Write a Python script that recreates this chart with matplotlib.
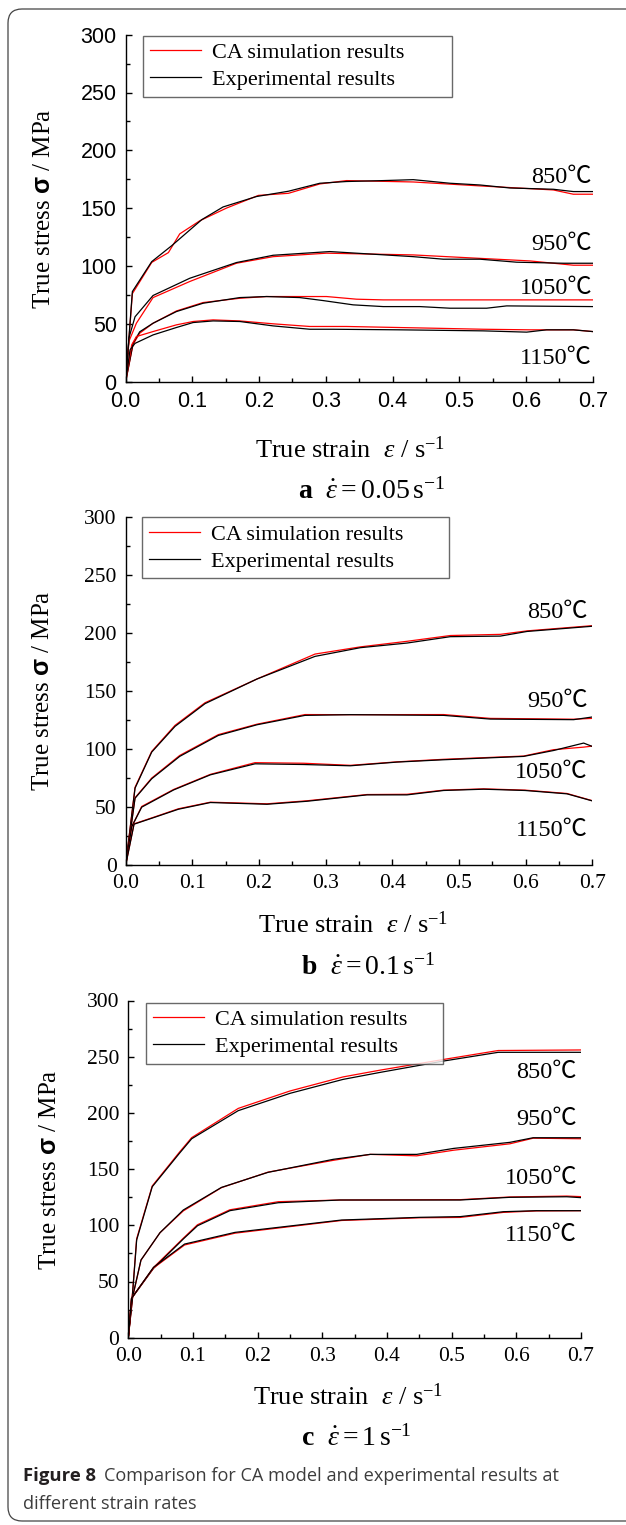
"""
Flow stress curves: CA simulation vs experiment at three strain rates.
"""

import matplotlib
matplotlib.use("Agg")
import matplotlib.pyplot as plt
from matplotlib.patches import FancyBboxPatch
from matplotlib.ticker import MultipleLocator


# =====================================================
# Data (strain, stress in MPa)
# =====================================================

TEMPS = ["850℃", "950℃", "1050℃", "1150℃"]

# ---- a : 0.05 s-1 ----
A_850_EXP_X = [0, 0.01, 0.039, 0.069, 0.114, 0.146, 0.196, 0.244, 0.291, 0.331, 0.386, 0.431, 0.486, 0.531, 0.576, 0.641, 0.671, 0.7]
A_850_EXP_Y = [0, 77.8, 103.7, 117.5, 140, 151, 160, 164.6, 171.5, 173, 173.8, 174.6, 171.5, 170, 167.4, 166.3, 164.3, 164.3]
A_850_SIM_X = [0, 0.01, 0.039, 0.064, 0.081, 0.111, 0.151, 0.199, 0.244, 0.291, 0.331, 0.431, 0.531, 0.641, 0.671, 0.7]
A_850_SIM_Y = [0, 76, 103, 111.5, 127.7, 139, 150, 161, 162.8, 170.9, 173.8, 172.6, 169.2, 165.7, 162, 162]

A_950_EXP_X = [0, 0.005, 0.014, 0.041, 0.096, 0.166, 0.221, 0.306, 0.431, 0.476, 0.531, 0.586, 0.656, 0.7]
A_950_EXP_Y = [0, 38, 56, 74.4, 89.3, 102.9, 109.2, 112.4, 108, 105.8, 105.8, 103.2, 102.3, 102.3]
A_950_SIM_X = [0, 0.005, 0.016, 0.041, 0.096, 0.166, 0.221, 0.301, 0.431, 0.481, 0.606, 0.671, 0.7]
A_950_SIM_Y = [0, 35, 50.4, 72.6, 86.5, 102.3, 108, 111, 109.5, 108, 104.3, 100.6, 100.6]

A_1050_EXP_X = [0, 0.011, 0.021, 0.041, 0.076, 0.116, 0.171, 0.211, 0.261, 0.296, 0.341, 0.386, 0.441, 0.486, 0.541, 0.571, 0.7]
A_1050_EXP_Y = [0, 33, 43, 50.4, 60.5, 67.7, 72.6, 73.5, 72.6, 70, 66.3, 64.8, 64.8, 63.4, 63.4, 65.4, 64.8]
A_1050_SIM_X = [0, 0.011, 0.021, 0.041, 0.076, 0.116, 0.171, 0.211, 0.301, 0.346, 0.386, 0.7]
A_1050_SIM_Y = [0, 32, 41.8, 50.4, 61, 68.3, 72, 73.5, 73.5, 71.2, 70.6, 70.6]

A_1150_EXP_X = [0, 0.0065, 0.014, 0.041, 0.076, 0.101, 0.131, 0.171, 0.221, 0.276, 0.311, 0.411, 0.536, 0.601, 0.631, 0.671, 0.7]
A_1150_EXP_Y = [0, 27.4, 33, 40.3, 46.7, 51, 52.4, 51.9, 48.1, 45.2, 45.2, 44.7, 43.8, 42.7, 44.7, 44.7, 43.2]
A_1150_SIM_X = [0, 0.009, 0.016, 0.041, 0.076, 0.101, 0.131, 0.171, 0.221, 0.276, 0.331, 0.461, 0.536, 0.606, 0.671, 0.7]
A_1150_SIM_Y = [0, 31.7, 38.9, 43.2, 49, 51.9, 53.3, 52.4, 49.9, 47.6, 47.6, 46.1, 45.2, 44.7, 44.7, 43.2]

# ---- b : 0.1 s-1 ----
B_850_X = [0, 0.014, 0.039, 0.074, 0.119, 0.197, 0.284, 0.352, 0.422, 0.487, 0.562, 0.602, 0.7]
B_850_EXP_Y = [0, 66.3, 97.4, 119.6, 139.2, 160.5, 180, 187.5, 191.5, 197, 197.5, 201.5, 206]
B_850_SIM_Y = [0, 67, 98, 120.5, 140, 160.5, 182, 188.2, 193, 198, 199, 202, 206.5]

B_950_X = [0, 0.014, 0.039, 0.081, 0.139, 0.197, 0.269, 0.337, 0.477, 0.547, 0.672, 0.7]
B_950_EXP_Y = [0, 57.6, 74.4, 93.7, 111.8, 121, 129.1, 129.7, 129.1, 125.9, 125.4, 127.7]
B_950_SIM_Y = [0, 58, 75, 94.5, 112.5, 121.5, 129.8, 129.7, 129.8, 126.5, 125.8, 126.5]

B_1050_X = [0, 0.009, 0.024, 0.072, 0.127, 0.194, 0.267, 0.337, 0.407, 0.477, 0.597, 0.642, 0.687, 0.7]
B_1050_EXP_Y = [0, 33, 49.9, 64.8, 77.8, 87.3, 86.7, 85.6, 88.8, 90.8, 93.7, 98.8, 105.2, 102.3]
B_1050_SIM_Y = [0, 33, 50.5, 65.2, 78.2, 88.3, 87.8, 86, 89, 91.2, 94, 99.5, 101.7, 102.6]

B_1150_X = [0, 0.0125, 0.042, 0.079, 0.127, 0.212, 0.272, 0.362, 0.422, 0.477, 0.537, 0.599, 0.662, 0.7]
B_1150_EXP_Y = [0, 35.2, 40.9, 48.1, 53.9, 52.4, 55, 60.5, 60.5, 64.3, 65.4, 64.3, 61.4, 55.3]
B_1150_SIM_Y = [0, 35.5, 41.2, 48.5, 54.2, 52.8, 55.4, 60.8, 61, 64.6, 65.7, 64.6, 61.7, 55.5]

# ---- c : 1 s-1 ----
C_850_X = [0, 0.0067, 0.0129, 0.037, 0.079, 0.098, 0.17, 0.25, 0.332, 0.389, 0.487, 0.572, 0.7]
C_850_EXP_Y = [0, 40, 86.9, 134.3, 164, 177, 202, 217.4, 229.8, 236, 246.1, 253.9, 253.9]
C_850_SIM_Y = [0, 41, 88, 135, 165, 178, 204, 219.5, 232, 238, 247.5, 255.5, 256]

C_950_X = [0, 0.0067, 0.0196, 0.049, 0.085, 0.144, 0.216, 0.317, 0.374, 0.446, 0.503, 0.59, 0.626, 0.7]
C_950_EXP_Y = [0, 36.5, 69.1, 93.4, 113.6, 133.7, 147.1, 158.7, 163.1, 163.1, 168.4, 173.8, 177.9, 177.9]
C_950_SIM_Y = [0, 36, 69, 93.4, 112.8, 133.5, 147.3, 157.8, 163.1, 161.8, 166.8, 172.5, 177.5, 177]

C_1050_X = [0, 0.005, 0.039, 0.085, 0.107, 0.157, 0.232, 0.327, 0.513, 0.59, 0.678, 0.7]
C_1050_EXP_Y = [0, 35, 61.7, 87.8, 99.6, 113, 120.1, 122.5, 122.5, 124.9, 125.4, 124.6]
C_1050_SIM_Y = [0, 35, 62.5, 88.5, 100.5, 113.8, 121, 122.5, 122.8, 125.2, 126, 125.5]

C_1150_X = [0, 0.005, 0.039, 0.087, 0.165, 0.33, 0.451, 0.513, 0.58, 0.631, 0.7]
C_1150_EXP_Y = [0, 35, 62.6, 83.3, 93.7, 104.7, 107.1, 107.7, 112.1, 113, 113]
C_1150_SIM_Y = [0, 35, 62, 82.5, 93, 104.3, 106.7, 107, 111.5, 112.8, 113]

# label anchor (stress) for each temperature text
A_LABEL_Y = [176.5, 118.9, 80.9, 20.3]
B_LABEL_Y = [217.6, 141.2, 80.1, 29.7]
C_LABEL_Y = [236, 194.2, 141.8, 91.3]


# =====================================================
# Style
# =====================================================

W, H = 626, 1525

SERIF = "Liberation Serif"
TEMP_FONT = ["Liberation Serif", "Noto Sans CJK SC"]

plt.rcParams["font.family"] = SERIF
plt.rcParams["mathtext.fontset"] = "custom"
plt.rcParams["mathtext.rm"] = "Liberation Serif"
plt.rcParams["mathtext.it"] = "Liberation Serif:italic"
plt.rcParams["mathtext.bf"] = "Liberation Serif:bold"
plt.rcParams["mathtext.sf"] = "Liberation Sans:bold"


def fx(px):
    return px / W


def fy(py):
    return 1 - py / H


# =====================================================
# One panel
# =====================================================

def draw_panel(ax, curves, label_y, label_x, tick_font, legend_box):

    for (xe, ye, xs, ys) in curves:
        ax.plot(xs, ys, color="#ff0000", lw=0.9)
        ax.plot(xe, ye, color="black", lw=0.9)

    for t, y in zip(TEMPS, label_y):
        ax.text(label_x, y, t, ha="right", va="center",
                fontsize=17.5, family=TEMP_FONT)

    ax.set_xlim(0, 0.7)
    ax.set_ylim(0, 300)

    ax.xaxis.set_major_locator(MultipleLocator(0.1))
    ax.xaxis.set_minor_locator(MultipleLocator(0.05))
    ax.yaxis.set_major_locator(MultipleLocator(50))
    ax.yaxis.set_minor_locator(MultipleLocator(25))
    ax.xaxis.set_major_formatter(lambda v, p: f"{v:.1f}")

    for s in ["top", "right"]:
        ax.spines[s].set_visible(False)
    for s in ["left", "bottom"]:
        ax.spines[s].set_linewidth(1.0)

    ax.tick_params(which="major", direction="in", length=4.5, width=1.0,
                   labelsize=15.5)
    ax.tick_params(which="minor", direction="in", length=2.6, width=1.0)
    ax.tick_params(axis="x", which="major", pad=6.5)
    ax.tick_params(axis="y", which="major", pad=6.5)

    for lab in ax.get_xticklabels() + ax.get_yticklabels():
        lab.set_family(tick_font)

    h1, = ax.plot([], [], color="#ff0000", lw=0.9)
    h2, = ax.plot([], [], color="black", lw=0.9)
    leg = ax.legend(
        [h1, h2],
        ["CA simulation results", "Experimental results"],
        loc="upper left",
        bbox_to_anchor=legend_box,
        mode="expand",
        borderaxespad=0,
        fontsize=16,
        handlelength=2.3,
        handletextpad=0.5,
        labelspacing=0.3,
        borderpad=0.3,
        fancybox=False,
        frameon=True,
    )
    leg.get_frame().set_edgecolor("#444444")
    leg.get_frame().set_linewidth(1.0)


# =====================================================
# Figure
# =====================================================

def make_figure():

    fig = plt.figure(figsize=(W / 100, H / 100), dpi=100)

    # journal frame
    frame = FancyBboxPatch(
        (0.08, 0.04), 6.5, 15.12,
        boxstyle="round,pad=0,rounding_size=0.14",
        transform=fig.dpi_scale_trans,
        facecolor="none", edgecolor="#444444", lw=0.9,
    )
    fig.patches.append(frame)

    ax_a = fig.add_axes([fx(125.7), fy(381.5), fx(467), 346.8 / H])
    ax_b = fig.add_axes([fx(125.7), fy(865), fx(466.6), 347.7 / H])
    ax_c = fig.add_axes([fx(128.3), fy(1337.7), fx(452.7), 337.2 / H])

    curves_a = [
        (A_850_EXP_X, A_850_EXP_Y, A_850_SIM_X, A_850_SIM_Y),
        (A_950_EXP_X, A_950_EXP_Y, A_950_SIM_X, A_950_SIM_Y),
        (A_1050_EXP_X, A_1050_EXP_Y, A_1050_SIM_X, A_1050_SIM_Y),
        (A_1150_EXP_X, A_1150_EXP_Y, A_1150_SIM_X, A_1150_SIM_Y),
    ]
    curves_b = [
        (B_850_X, B_850_EXP_Y, B_850_X, B_850_SIM_Y),
        (B_950_X, B_950_EXP_Y, B_950_X, B_950_SIM_Y),
        (B_1050_X, B_1050_EXP_Y, B_1050_X, B_1050_SIM_Y),
        (B_1150_X, B_1150_EXP_Y, B_1150_X, B_1150_SIM_Y),
    ]
    curves_c = [
        (C_850_X, C_850_EXP_Y, C_850_X, C_850_SIM_Y),
        (C_950_X, C_950_EXP_Y, C_950_X, C_950_SIM_Y),
        (C_1050_X, C_1050_EXP_Y, C_1050_X, C_1050_SIM_Y),
        (C_1150_X, C_1150_EXP_Y, C_1150_X, C_1150_SIM_Y),
    ]

    draw_panel(ax_a, curves_a, A_LABEL_Y, 0.699, "Liberation Sans",
               (0.037, 0.824, 0.662, 0.173))
    draw_panel(ax_b, curves_b, B_LABEL_Y, 0.693, SERIF,
               (0.035, 0.827, 0.658, 0.173))
    draw_panel(ax_c, curves_c, C_LABEL_Y, 0.694, SERIF,
               (0.039, 0.822, 0.656, 0.172))

    # axis titles
    xlab = r"True strain  $\mathit{ε}$ / s$^{\mathrm{-1}}$"
    ylab = r"True stress $\mathsf{σ}$ / MPa"

    for (x, y) in [(350, 450), (353, 925), (348, 1397)]:
        fig.text(fx(x), fy(y), xlab, ha="center", va="center", fontsize=19)

    for (x, y) in [(44, 209), (43, 691), (50, 1170)]:
        fig.text(fx(x), fy(y), ylab, ha="center", va="center",
                 rotation=90, fontsize=18)

    subs = [
        (371, 491, r"$\mathbf{a}$  $\dot{\mathit{ε}} = 0.05\,\mathrm{s}^{-1}$"),
        (368, 967, r"$\mathbf{b}$  $\dot{\mathit{ε}} = 0.1\,\mathrm{s}^{-1}$"),
        (356, 1438, r"$\mathbf{c}$  $\dot{\mathit{ε}} = 1\,\mathrm{s}^{-1}$"),
    ]
    for x, y, s in subs:
        fig.text(fx(x), fy(y), s, ha="center", va="center", fontsize=20)

    # figure caption
    cap = fig.text(fx(23), fy(1476), "Figure 8", ha="left", va="center",
                   fontsize=13.3, family="Open Sans", weight="bold",
                   color="#231f20")
    fig.canvas.draw()
    bb = cap.get_window_extent()
    fig.text(bb.x1 / W + fx(8), fy(1476),
             "Comparison for CA model and experimental results at",
             ha="left", va="center", fontsize=13.1, family="Open Sans",
             color="#3c3c3c")
    fig.text(fx(23), fy(1504), "different strain rates", ha="left",
             va="center", fontsize=13.1, family="Open Sans", color="#3c3c3c")

    fig.savefig("out.png", dpi=100)
    plt.close(fig)


# =====================================================
# Main
# =====================================================

if __name__ == "__main__":

    make_figure()

    print("Figure saved to out.png")
